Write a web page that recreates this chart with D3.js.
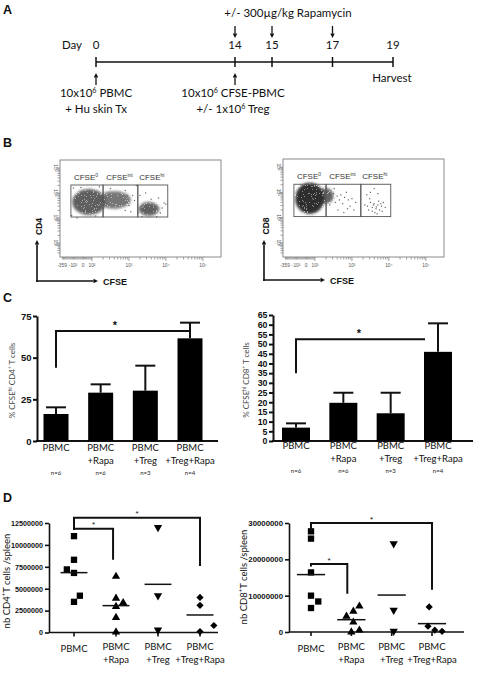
<!DOCTYPE html>
<html><head><meta charset="utf-8">
<script src="https://cdn.jsdelivr.net/npm/d3@7/dist/d3.min.js"></script>
<style>html,body{margin:0;padding:0;background:#fff}svg{display:block}</style>
</head><body>
<svg id="fig" width="480" height="683"></svg>
<script>
// ===================== DATA =====================
// Panel A – timeline
const timelineDays = [0, 14, 15, 17, 19];
const rapamycinDays = [14, 15, 17];
const injectionDays = [0, 14];
const harvestDay = 19;
const rapamycinLabel = "+/- 300µg/kg Rapamycin";
const injectionLabels = [
  [["10x10", {sup: "6"}, " PBMC"], ["+ Hu skin Tx"]],
  [["10x10", {sup: "6"}, " CFSE-PBMC"], ["+/- 1x10", {sup: "6"}, " Treg"]]
];

// Panel B – flow cytometry (log10 units)
const gateBoundsCFSE = [1.43, 2.30, 3.24, 4.05];
const gateBoundsMarker = [3.04, 4.32];
const gateNames = [["CFSE", "0"], ["CFSE", "int"], ["CFSE", "hi"]];
const flowXTickValues = [1.19, 1.49, 1.76, 2, 3, 4, 5];
const flowXTickLabels = ["-359", "-10²", "0", "10²", "10³", "10⁴", "10⁵"];
const flowYTickValues = [2, 3, 4, 5];
const flowYTickLabels = ["10²", "10³", "10⁴", "10⁵"];
// dense populations: [cfse, marker, spreadCfse, spreadMarker, density]
const cd4Populations = [
  [1.92, 3.64, 0.44, 0.50, 1.0],
  [2.60, 3.72, 0.44, 0.34, 0.75],
  [3.54, 3.36, 0.27, 0.26, 0.95]
];
const cd8Populations = [
  [1.86, 3.76, 0.38, 0.60, 1.0],
  [2.28, 3.86, 0.22, 0.30, 0.6]
];
// sparse single events: [cfse, marker]
const cd4Events = [[3.0,3.5],[3.1,3.9],[3.15,3.7],[3.3,3.9],[3.9,3.4],[3.95,3.6],[3.85,3.2],[4.0,3.55],
  [3.25,3.2],[3.35,3.05],[1.6,3.0],[1.5,4.2],[3.45,4.0],[2.9,4.1],[3.8,3.8],[3.05,3.25],[2.95,3.9],
  [2.2,4.25],[1.7,4.22],[2.5,4.18],[1.45,3.1],[2.1,3.08],[2.9,3.3],[3.2,4.3],[3.6,3.75],[3.75,3.05]];
const cd8Events = [[2.35,4.05],[2.42,3.9],[2.5,3.95],[2.45,3.75],[2.6,3.85],[2.55,3.6],[2.7,3.9],[2.66,3.7],
  [2.8,3.8],[2.75,3.55],[2.9,3.7],[2.85,4.0],[2.95,3.45],[3.0,3.75],[2.4,3.5],[2.62,3.3],[2.78,3.2],
  [3.05,3.3],[3.1,3.6],[2.52,4.15],[2.88,3.35],[2.38,3.65],
  [3.35,3.5],[3.42,3.45],[3.5,3.6],[3.55,3.4],[3.6,3.55],[3.65,3.35],[3.7,3.5],[3.75,3.3],[3.62,3.2],
  [3.8,3.45],[3.85,3.6],[3.55,3.25],[3.48,3.75],[3.68,3.15],[3.72,3.65],[3.9,3.4],[3.45,3.3],[3.58,3.5],
  [3.66,3.42],[3.78,3.55],[3.5,4.0],[3.6,4.15],[3.7,3.95],[3.4,3.9],[3.82,3.25]];

// Panel C – % CFSEhi
const groupLabels = [["PBMC"], ["PBMC", "+Rapa"], ["PBMC", "+Treg"], ["PBMC", "+Treg+Rapa"]];
const groupN = ["n=6", "n=6", "n=3", "n=4"];
const cd4HiMean = [16.2, 29.0, 30.2, 61.6];
const cd4HiSem  = [4.0, 5.0, 15.0, 9.4];
const cd8HiMean = [6.9, 19.7, 14.3, 46.0];
const cd8HiSem  = [2.2, 5.2, 10.6, 14.7];
const cd4HiTicks = [0, 25, 50, 75];
const cd8HiTicks = [0, 5, 10, 15, 20, 25, 30, 35, 40, 45, 50, 55, 60, 65];
// significance: [fromGroup, toGroup, level, leftLegBottom]
const cd4HiSig = [[0, 3, 66, 44]];
const cd8HiSig = [[0, 3, 52.5, 35]];

// Panel D – absolute counts per spleen
const cd4Counts = [
  [11.0e6, 8.3e6, 7.2e6, 6.8e6, 4.2e6, 3.5e6],
  [6.4e6, 3.9e6, 3.4e6, 2.95e6, 1.7e6, 0.05e6],
  [12.0e6, 4.2e6, 0.3e6],
  [4.0e6, 3.1e6, 0.8e6, 0.1e6]
];
const cd8Counts = [
  [27.7e6, 25.7e6, 16.4e6, 10.0e6, 8.4e6, 6.6e6],
  [7.1e6, 5.7e6, 4.3e6, 2.7e6, 0.5e6, 0.0e6],
  [24.3e6, 6.0e6, 0.2e6],
  [6.9e6, 1.6e6, 0.5e6, 0.2e6]
];
const cd4CountTicks = [0, 2500000, 5000000, 7500000, 10000000, 12500000];
const cd8CountTicks = [0, 10000000, 20000000, 30000000];
// significance: [fromGroup, toGroup, level, leftLegBottom, rightLegBottom]
const cd4CountSig = [[0, 3, 13.1e6, 11.7e6, 7.6e6], [0, 0.93, 11.85e6, 11.7e6, 8.3e6]];
const cd8CountSig = [[0, 3, 30.0e6, 28.0e6, 11.6e6], [0, 0.9, 18.7e6, 18.0e6, 10.5e6]];

// ===================== LAYOUT / STYLE =====================
const SANS = "Lato, 'Open Sans', sans-serif";
const ARIAL = "'Liberation Sans', Arial, sans-serif";
const cd4Jitter = [[0,0,-0.17,0,0.14,0],[0,0,0.17,0,0,0],[0,0,0],[0,0,0.33,0]];
const cd8Jitter = [[0,0,0,0,0.18,0],[0.2,0.05,-0.12,0.05,0.2,0],[0.05,0.05,0.05],[-0.07,-0.1,0.07,0.25]];

const svg = d3.select("#fig");
svg.append("rect").attr("width", 480).attr("height", 683).attr("fill", "#fff");
const defs = svg.append("defs");
const grain = defs.append("filter").attr("id", "grain").attr("x", "-50%").attr("y", "-50%")
  .attr("width", "200%").attr("height", "200%");
grain.append("feGaussianBlur").attr("in", "SourceGraphic").attr("stdDeviation", 1.6).attr("result", "b");
grain.append("feTurbulence").attr("type", "fractalNoise").attr("baseFrequency", 0.9).attr("numOctaves", 2)
  .attr("seed", 4).attr("result", "n");
const ct = grain.append("feComponentTransfer").attr("in", "n").attr("result", "mask");
ct.append("feFuncA").attr("type", "discrete").attr("tableValues", "0 0 1 1 1 1");
grain.append("feComposite").attr("in", "b").attr("in2", "mask").attr("operator", "in").attr("result", "speck");
const cm = grain.append("feComponentTransfer").attr("in", "b").attr("result", "soft");
cm.append("feFuncA").attr("type", "linear").attr("slope", 0.55);
const mg = grain.append("feMerge");
mg.append("feMergeNode").attr("in", "soft");
mg.append("feMergeNode").attr("in", "speck");

function rich(g, x, y, parts, size, opts = {}) {
  const t = g.append("text").attr("x", x).attr("y", y)
    .attr("font-family", opts.family || SANS).attr("font-size", size)
    .attr("font-weight", opts.weight || "normal").attr("fill", opts.fill || "#111")
    .attr("text-anchor", opts.anchor || "start");
  if (opts.transform) t.attr("transform", opts.transform);
  const shift = size * 0.38;
  let up = false;
  parts.forEach(p => {
    if (typeof p === "string") {
      t.append("tspan").attr("dy", up ? shift : 0).text(p); up = false;
    } else {
      t.append("tspan").attr("dy", -shift).attr("font-size", size * 0.62).text(p.sup); up = true;
    }
  });
  return t;
}
function panelLetter(l, x, y) {
  svg.append("text").attr("x", x).attr("y", y).attr("font-family", ARIAL).attr("font-weight", "bold")
    .attr("font-size", 12.5).attr("fill", "#111").text(l);
}
function arrow(g, x1, y1, x2, y2, head = 4, w = 1.4) {
  const a = Math.atan2(y2 - y1, x2 - x1);
  const bx = x2 - head * 1.4 * Math.cos(a), by = y2 - head * 1.4 * Math.sin(a);
  g.append("line").attr("x1", x1).attr("y1", y1).attr("x2", bx).attr("y2", by)
    .attr("stroke", "#111").attr("stroke-width", w);
  const px = -Math.sin(a) * head * 0.7, py = Math.cos(a) * head * 0.7;
  g.append("path").attr("d", `M${x2},${y2}L${bx + px},${by + py}L${bx - px},${by - py}Z`).attr("fill", "#111");
}

// ===================== PANEL A =====================
panelLetter("A", 3, 14);
const gA = svg.append("g");
const dayX = d3.scaleLinear().domain([0, 14, 15, 19]).range([96, 235, 272, 393]);
const lineY = 62;
gA.append("line").attr("x1", dayX(d3.min(timelineDays))).attr("x2", dayX(d3.max(timelineDays)))
  .attr("y1", lineY).attr("y2", lineY).attr("stroke", "#111").attr("stroke-width", 1.5);
timelineDays.forEach(d => {
  gA.append("line").attr("x1", dayX(d)).attr("x2", dayX(d)).attr("y1", lineY - 5).attr("y2", lineY + 5)
    .attr("stroke", "#111").attr("stroke-width", 1.5);
  gA.append("text").attr("x", dayX(d)).attr("y", 49).attr("text-anchor", "middle")
    .attr("font-family", SANS).attr("font-size", 11.5).attr("fill", "#111").text(d);
});
gA.append("text").attr("x", dayX(0) - 14).attr("y", 49).attr("text-anchor", "end")
  .attr("font-family", SANS).attr("font-size", 11.5).attr("fill", "#111").text("Day");
gA.append("text").attr("x", 288).attr("y", 17).attr("text-anchor", "middle")
  .attr("font-family", SANS).attr("font-size", 11.5).attr("fill", "#111").text(rapamycinLabel);
rapamycinDays.forEach(d => arrow(gA, dayX(d), 26, dayX(d), 38, 3.2, 1.3));
injectionDays.forEach((d, i) => {
  arrow(gA, dayX(d), 85, dayX(d), 73, 3.2, 1.3);
  injectionLabels[i].forEach((line, j) =>
    rich(gA, dayX(d) - (i === 1 ? 2 : 0), 97 + j * 16, line, 11.5, {anchor: "middle"}));
});
gA.append("text").attr("x", dayX(harvestDay) - 1).attr("y", 82).attr("text-anchor", "middle")
  .attr("font-family", SANS).attr("font-size", 11.5).attr("fill", "#111").text("Harvest");

// ===================== PANEL B =====================
panelLetter("B", 3, 147);
const flowPlots = [
  {frame: [60, 160, 221, 257], marker: "CD4", pops: cd4Populations, events: cd4Events,
   popColor: "#5e5e5e", axisX: 37, axisY: 281, arrowRight: 98, arrowTop: 240},
  {frame: [283, 159, 444, 257], marker: "CD8", pops: cd8Populations, events: cd8Events,
   popColor: "#2e2e2e", axisX: 264, axisY: 280, arrowRight: 325, arrowTop: 240}
];
flowPlots.forEach((fp, k) => {
  const [fx0, fy0, fx1, fy1] = fp.frame;
  const g = svg.append("g");
  const x = d3.scaleLinear().domain([1.135, 5.49]).range([fx0, fx1]);
  const y = d3.scaleLinear().domain([1.44, 5.32]).range([fy1, fy0]);
  g.append("rect").attr("x", fx0).attr("y", fy0).attr("width", fx1 - fx0).attr("height", fy1 - fy0)
    .attr("fill", "none").attr("stroke", "#8a8a8a").attr("stroke-width", 1);
  // populations
  const pg = g.append("g").attr("filter", "url(#grain)");
  fp.pops.forEach(p => {
    pg.append("ellipse").attr("cx", x(p[0])).attr("cy", y(p[1]))
      .attr("rx", x(p[0] + p[2]) - x(p[0])).attr("ry", y(p[1]) - y(p[1] + p[3]))
      .attr("fill", fp.popColor).attr("opacity", p[4]);
  });
  g.selectAll(".ev").data(fp.events).join("rect")
    .attr("x", d => x(d[0]) - 0.6).attr("y", d => y(d[1]) - 0.6).attr("width", 1.2).attr("height", 1.2)
    .attr("fill", "#666");
  // gates
  for (let i = 0; i < 3; i++) {
    const gx0 = x(gateBoundsCFSE[i]), gx1 = x(gateBoundsCFSE[i + 1]);
    g.append("rect").attr("x", gx0).attr("y", y(gateBoundsMarker[1])).attr("width", gx1 - gx0)
      .attr("height", y(gateBoundsMarker[0]) - y(gateBoundsMarker[1]))
      .attr("fill", "none").attr("stroke", "#555").attr("stroke-width", 0.9);
    rich(g, (gx0 + gx1) / 2 - 1, y(gateBoundsMarker[1]) - 5, [gateNames[i][0], {sup: gateNames[i][1]}], 8,
      {anchor: "middle", family: ARIAL, fill: "#333"});
  }
  // axis ticks: minor per decade
  const minor = [];
  for (let dec = 2; dec < 5; dec++) for (let m = 1; m <= 9; m++) minor.push(dec + Math.log10(m));
  minor.push(5);
  const linear = d3.range(1.2, 2.0, 0.03);
  g.selectAll(".mx").data(minor.concat(linear)).join("line")
    .attr("x1", d => x(d)).attr("x2", d => x(d)).attr("y1", fy1).attr("y2", d => fy1 + (Number.isInteger(d) ? 4 : 2.5))
    .attr("stroke", "#888").attr("stroke-width", 0.8);
  const yminor = [];
  for (let dec = 1; dec < 5; dec++) for (let m = 1; m <= 9; m++) { const v = dec + Math.log10(m); if (v > 1.5) yminor.push(v); }
  yminor.push(5);
  g.selectAll(".my").data(yminor).join("line")
    .attr("y1", d => y(d)).attr("y2", d => y(d)).attr("x1", fx0).attr("x2", d => fx0 - (Number.isInteger(d) ? 4 : 2.5))
    .attr("stroke", "#888").attr("stroke-width", 0.8);
  flowXTickValues.forEach((v, i) => {
    g.append("text").attr("x", x(v)).attr("y", fy1 + 10).attr("text-anchor", "middle")
      .attr("font-family", ARIAL).attr("font-size", 4.8).attr("fill", "#555").text(flowXTickLabels[i]);
  });
  flowYTickValues.forEach((v, i) => {
    g.append("text").attr("transform", `translate(${fx0 - 6},${y(v)}) rotate(90)`).attr("text-anchor", "middle")
      .attr("font-family", ARIAL).attr("font-size", 4.8).attr("fill", "#555").text(flowYTickLabels[i]);
  });
  // axis arrows and labels
  arrow(g, fp.axisX - 1, fp.axisY, fp.arrowRight, fp.axisY, 3.2, 1.6);
  arrow(g, fp.axisX, fp.axisY + 1, fp.axisX, fp.arrowTop, 3.2, 1.6);
  g.append("text").attr("x", fp.arrowRight + 5).attr("y", fp.axisY + 4).attr("font-family", ARIAL)
    .attr("font-weight", "bold").attr("font-size", 9).attr("fill", "#111").text("CFSE");
  g.append("text").attr("transform", `translate(${fp.axisX + 5},${(fy0 + fy1) / 2 + 18}) rotate(-90)`)
    .attr("text-anchor", "middle").attr("font-family", ARIAL).attr("font-weight", "bold")
    .attr("font-size", 8.5).attr("fill", "#111").text(fp.marker);
});

// ===================== PANEL C =====================
panelLetter("C", 3, 302);
function barChart(cfg) {
  const g = svg.append("g");
  const y = d3.scaleLinear().domain([0, d3.max(cfg.ticks)]).range([cfg.y0, cfg.y1]);
  const x = d3.scalePoint().domain(d3.range(cfg.mean.length)).range(cfg.xr);
  const ax = g.append("g").attr("transform", `translate(${cfg.ax},0)`)
    .call(d3.axisLeft(y).tickValues(cfg.ticks).tickSize(4).tickSizeOuter(0).tickPadding(1.5).tickFormat(d3.format("d")));
  ax.select(".domain").attr("stroke-width", 2).attr("stroke", "#111");
  ax.selectAll(".tick line").attr("stroke-width", 2).attr("stroke", "#111");
  ax.selectAll("text").attr("font-family", ARIAL).attr("font-weight", "bold").attr("font-size", cfg.tickFont).attr("fill", "#111");
  g.append("line").attr("x1", cfg.ax - 1).attr("x2", cfg.axEnd).attr("y1", y(0)).attr("y2", y(0))
    .attr("stroke", "#111").attr("stroke-width", 2);
  cfg.mean.forEach((m, i) => {
    g.append("line").attr("x1", x(i)).attr("x2", x(i)).attr("y1", y(m)).attr("y2", y(m + cfg.sem[i]))
      .attr("stroke", "#111").attr("stroke-width", 2);
    g.append("line").attr("x1", x(i) - cfg.cap / 2).attr("x2", x(i) + cfg.cap / 2)
      .attr("y1", y(m + cfg.sem[i])).attr("y2", y(m + cfg.sem[i])).attr("stroke", "#111").attr("stroke-width", 2);
  });
  g.selectAll(".bar").data(cfg.mean).join("rect")
    .attr("x", (d, i) => x(i) - cfg.bw / 2).attr("width", cfg.bw)
    .attr("y", d => y(d)).attr("height", d => y(0) - y(d)).attr("fill", "#000");
  cfg.sig.forEach(s => {
    g.append("path").attr("d", `M${x(s[0])},${y(s[3])}V${y(s[2])}H${x(s[1]) - cfg.sigTrim}`)
      .attr("fill", "none").attr("stroke", "#111").attr("stroke-width", 2);
    g.append("text").attr("x", (x(s[0]) + x(s[1])) / 2 - 8).attr("y", y(s[2]) - 2).attr("text-anchor", "middle")
      .attr("font-family", ARIAL).attr("font-weight", "bold").attr("font-size", 11).attr("fill", "#111").text("*");
  });
  groupLabels.forEach((lines, i) => {
    lines.forEach((l, j) => g.append("text").attr("x", x(i)).attr("y", cfg.labY + j * 13).attr("text-anchor", "middle")
      .attr("font-family", SANS).attr("font-size", 9.5).attr("fill", "#111").text(l));
    g.append("text").attr("x", x(i)).attr("y", cfg.labY + 24).attr("text-anchor", "middle")
      .attr("font-family", SANS).attr("font-size", 6).attr("fill", "#222").text(groupN[i]);
  });
  rich(g, 0, 0, cfg.ylab, 8, {anchor: "middle", fill: "#444",
    transform: `translate(${cfg.ylabX},${(cfg.y0 + cfg.y1) / 2 + 2}) rotate(-90)`});
}
barChart({mean: cd4HiMean, sem: cd4HiSem, ticks: cd4HiTicks, sig: cd4HiSig, y0: 441, y1: 316, xr: [56, 190],
  ax: 37, axEnd: 218, bw: 25, cap: 20, tickFont: 9.5, labY: 451, sigTrim: 0, ylabX: 15,
  ylab: ["% CFSE", {sup: "hi"}, " CD4", {sup: "+"}, " T cells"]});
barChart({mean: cd8HiMean, sem: cd8HiSem, ticks: cd8HiTicks, sig: cd8HiSig, y0: 441, y1: 315, xr: [296, 438],
  ax: 273, axEnd: 473, bw: 28, cap: 20, tickFont: 8.8, labY: 449, sigTrim: 13, ylabX: 249,
  ylab: ["% CFSE", {sup: "hi"}, " CD8", {sup: "+"}, " T cells"]});

// ===================== PANEL D =====================
panelLetter("D", 3, 502);
const symbols = [
  d3.symbol().type(d3.symbolSquare).size(40),
  d3.symbol().type(d3.symbolTriangle).size(30),
  d3.symbol().type(d3.symbolTriangle).size(30),
  d3.symbol().type(d3.symbolSquare).size(26)
];
const symbolRotate = [0, 0, 180, 45];
function dotChart(cfg) {
  const g = svg.append("g");
  const y = d3.scaleLinear().domain([0, d3.max(cfg.ticks)]).range([cfg.y0, cfg.y1]);
  const x = d3.scaleLinear().domain([0, 3]).range(cfg.xr);
  const ax = g.append("g").attr("transform", `translate(${cfg.ax},0)`)
    .call(d3.axisLeft(y).tickValues(cfg.ticks).tickSize(4).tickSizeOuter(0).tickPadding(2).tickFormat(d3.format("d")));
  ax.select(".domain").attr("stroke-width", 1.6).attr("stroke", "#111");
  ax.selectAll(".tick line").attr("stroke-width", 1.6).attr("stroke", "#111");
  ax.selectAll("text").attr("font-family", ARIAL).attr("font-weight", "bold").attr("font-size", cfg.tickFont).attr("fill", "#111");
  g.append("line").attr("x1", cfg.ax).attr("x2", cfg.axEnd).attr("y1", y(0)).attr("y2", y(0))
    .attr("stroke", "#111").attr("stroke-width", 1.6);
  d3.range(4).forEach(i => g.append("line").attr("x1", x(i)).attr("x2", x(i)).attr("y1", y(0)).attr("y2", y(0) + 4)
    .attr("stroke", "#111").attr("stroke-width", 1.6));
  cfg.data.forEach((vals, i) => {
    vals.forEach((v, j) => {
      g.append("path").attr("d", symbols[i]())
        .attr("transform", `translate(${x(i + cfg.jitter[i][j])},${y(v)}) rotate(${symbolRotate[i]})`)
        .attr("fill", "#000");
    });
    const m = d3.mean(vals);
    g.append("line").attr("x1", x(i - cfg.half)).attr("x2", x(i + cfg.half)).attr("y1", y(m)).attr("y2", y(m))
      .attr("stroke", "#111").attr("stroke-width", 1.5);
  });
  cfg.sig.forEach(s => {
    g.append("path").attr("d", `M${x(s[0])},${y(s[3])}V${y(s[2])}H${x(s[1])}V${y(s[4])}`)
      .attr("fill", "none").attr("stroke", "#111").attr("stroke-width", 2);
    g.append("text").attr("x", (x(s[0]) + x(s[1])) / 2).attr("y", y(s[2]) - 1.5).attr("text-anchor", "middle")
      .attr("font-family", ARIAL).attr("font-size", 8).attr("fill", "#111").text("*");
  });
  groupLabels.forEach((lines, i) => {
    lines.forEach((l, j) => g.append("text").attr("x", x(i))
      .attr("y", 650 + (lines.length > 1 ? 0 : 2) + j * 12.5).attr("text-anchor", "middle")
      .attr("font-family", SANS).attr("font-size", 9.5).attr("fill", "#111").text(l));
  });
  rich(g, 0, 0, cfg.ylab, 9.5, {anchor: "middle", fill: "#111",
    transform: `translate(${cfg.ylabX},${cfg.ylabY}) rotate(-90)`});
}
dotChart({data: cd4Counts, jitter: cd4Jitter, ticks: cd4CountTicks, sig: cd4CountSig, y0: 632.5, y1: 523,
  xr: [74, 200], ax: 49, axEnd: 218, tickFont: 7.2, half: 0.32, ylabX: 10, ylabY: 581,
  ylab: ["nb CD4", {sup: "+"}, "T cells /spleen"]});
dotChart({data: cd8Counts, jitter: cd8Jitter, ticks: cd8CountTicks, sig: cd8CountSig, y0: 632, y1: 523,
  xr: [311, 432], ax: 289, axEnd: 464, tickFont: 7.8, half: 0.35, ylabX: 247, ylabY: 577,
  ylab: ["nb CD8", {sup: "+"}, "T cells /spleen"]});
</script>
</body></html>
